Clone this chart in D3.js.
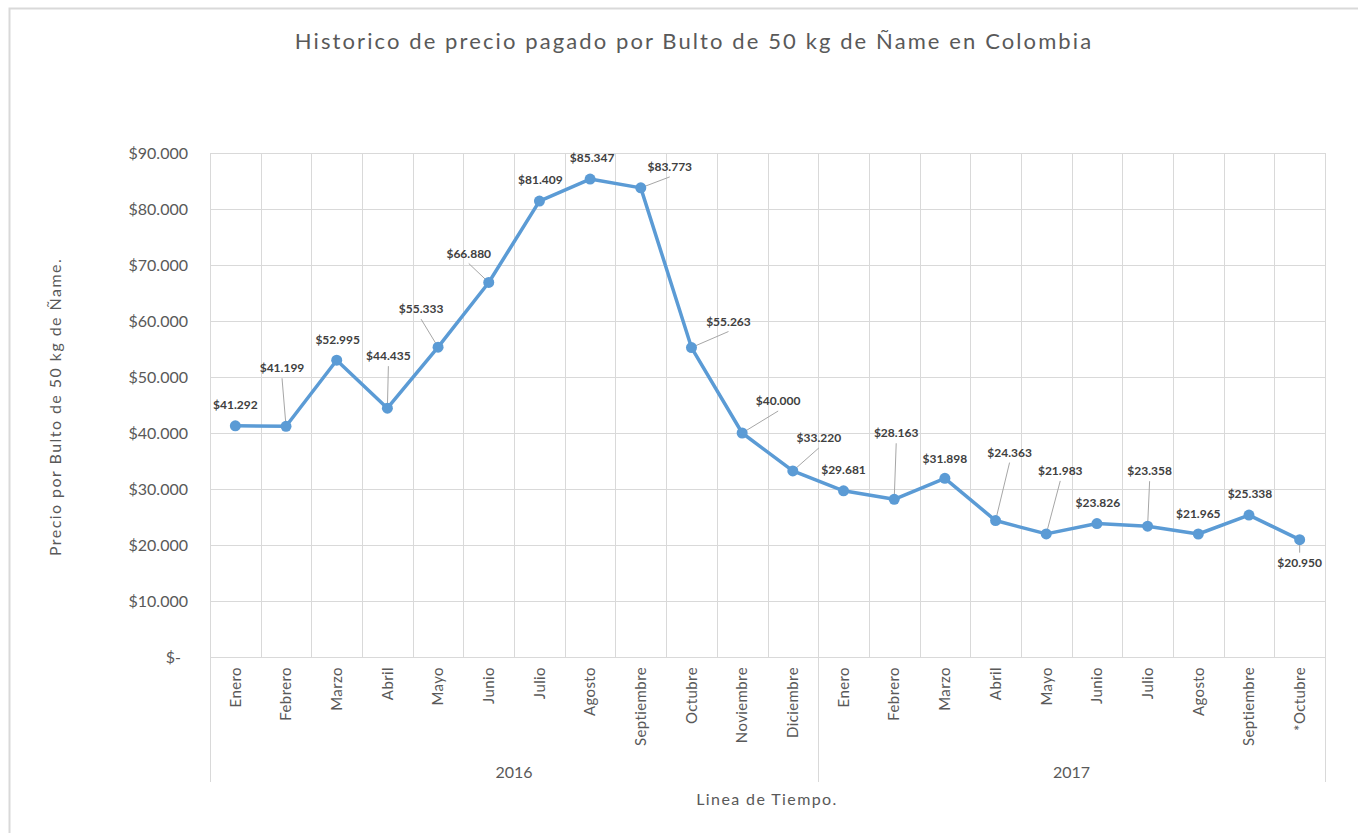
<!DOCTYPE html>
<html>
<head>
<meta charset="utf-8">
<script src="https://cdn.jsdelivr.net/npm/d3@7"></script>
<style>
  html, body { margin: 0; padding: 0; background: #fff; }
  svg { display: block; font-family: Lato, "Open Sans", sans-serif; }
</style>
</head>
<body>
<svg id="chart" width="1358" height="833"></svg>
<script>
// ---- data ----
const months = ["Enero","Febrero","Marzo","Abril","Mayo","Junio","Julio","Agosto","Septiembre","Octubre","Noviembre","Diciembre",
                "Enero","Febrero","Marzo","Abril","Mayo","Junio","Julio","Agosto","Septiembre","*Octubre"];
const years = ["2016","2017"];
const yearOfMonth = [0,0,0,0,0,0,0,0,0,0,0,0,1,1,1,1,1,1,1,1,1,1];
const prices = [41292,41199,52995,44435,55333,66880,81409,85347,83773,55263,40000,33220,
                29681,28163,31898,24363,21983,23826,23358,21965,25338,20950];
const yTicks = [0,10000,20000,30000,40000,50000,60000,70000,80000,90000];

// label placement (layout only): offset of label centre from point, and whether a leader line is drawn
const labelDx = [0,-4,1,1,-17,-20,1,2,29,37,36,26,0,2,0,14,14,1,2,0,1,0];
const labelDy = [-21,-58,-20,-52,-38,-29,-21,-21,-21,-26,-32,-33,-21,-66,-20,-68,-63,-21,-55,-20,-21,23];
const leader  = [0,1,0,1,1,1,0,0,1,1,1,1,0,1,0,1,1,0,1,0,0,1];

// ---- layout ----
const svg = d3.select("#chart");
const L = 210, R = 1325, T = 153, B = 657, axisBottom = 782;
const idx = d3.range(prices.length);

const x = d3.scaleBand().domain(idx).range([L, R]).paddingInner(0).paddingOuter(0);
const y = d3.scaleLinear().domain([0, 90000]).range([B, T]);

const loc = d3.formatLocale({decimal: ",", thousands: ".", grouping: [3], currency: ["$", ""]});
const fmt = loc.format("$,.0f");

const gridColor = "#d9d9d9", textColor = "#595959";

// frame
svg.append("rect").attr("x", 9.5).attr("y", 8.5).attr("width", 1400).attr("height", 900)
  .attr("fill", "none").attr("stroke", gridColor).attr("stroke-width", 2);

// title
svg.append("text").attr("x", 694).attr("y", 49).attr("text-anchor", "middle")
  .attr("font-size", 22).attr("letter-spacing", 2.1).attr("fill", textColor)
  .text("Historico de precio pagado por Bulto de 50 kg de Ñame en Colombia");

// horizontal gridlines
svg.append("g").selectAll("line").data(yTicks).join("line")
  .attr("x1", L).attr("x2", R)
  .attr("y1", d => Math.round(y(d)) + 0.5).attr("y2", d => Math.round(y(d)) + 0.5)
  .attr("stroke", gridColor).attr("stroke-width", 1);

// vertical gridlines at category boundaries
const bounds = d3.range(prices.length + 1).map(i => L + i * x.bandwidth());
svg.append("g").selectAll("line").data(bounds).join("line")
  .attr("x1", d => Math.round(d) + 0.5).attr("x2", d => Math.round(d) + 0.5)
  .attr("y1", T).attr("y2", B)
  .attr("stroke", gridColor).attr("stroke-width", 1);

// group separators below axis
const yearBounds = [0, yearOfMonth.indexOf(1), prices.length].map(i => L + i * x.bandwidth());
svg.append("g").selectAll("line").data(yearBounds).join("line")
  .attr("x1", d => Math.round(d) + 0.5).attr("x2", d => Math.round(d) + 0.5)
  .attr("y1", B).attr("y2", axisBottom)
  .attr("stroke", gridColor).attr("stroke-width", 1);

// y axis
const yAxis = d3.axisLeft(y).tickValues(yTicks).tickSize(0).tickPadding(0)
  .tickFormat(d => d === 0 ? "$-" : fmt(d));
const gy = svg.append("g").attr("transform", `translate(${188},0)`).call(yAxis);
gy.select(".domain").remove();
gy.selectAll("text").attr("font-size", 16).attr("fill", textColor)
  .attr("font-family", "Lato, sans-serif")
  .attr("dx", d => d === 0 ? -7 : 0);

// x axis (month labels)
const xAxis = d3.axisBottom(x).tickSize(0).tickFormat(i => months[i]);
const gx = svg.append("g").attr("transform", `translate(0,${B})`).call(xAxis);
gx.select(".domain").remove();
gx.selectAll("text")
  .attr("font-size", 15).attr("letter-spacing", 0.4).attr("fill", textColor).attr("font-family", "Lato, sans-serif")
  .attr("text-anchor", "end")
  .attr("transform", "rotate(-90)")
  .attr("x", -10).attr("y", 0).attr("dy", "0.35em");

// year labels
svg.append("g").selectAll("text").data(years).join("text")
  .attr("x", (d, i) => (yearBounds[i] + yearBounds[i + 1]) / 2)
  .attr("y", 778).attr("text-anchor", "middle")
  .attr("font-size", 16).attr("fill", textColor).text(d => d);

// axis titles
svg.append("text").attr("x", 767).attr("y", 805).attr("text-anchor", "middle")
  .attr("font-size", 16).attr("letter-spacing", 1.4).attr("fill", textColor).text("Linea de Tiempo.");
svg.append("text").attr("transform", "translate(61,407) rotate(-90)").attr("text-anchor", "middle")
  .attr("font-size", 16).attr("letter-spacing", 1.45).attr("fill", textColor).text("Precio por Bulto de 50 kg de Ñame.");

// leader lines
const cx = i => x(i) + x.bandwidth() / 2;
svg.append("g").selectAll("line").data(idx.filter(i => leader[i])).join("line")
  .attr("x1", i => cx(i)).attr("y1", i => y(prices[i]))
  .attr("x2", i => cx(i) + labelDx[i])
  .attr("y2", i => y(prices[i]) + labelDy[i] + (labelDy[i] < 0 ? 10 : -10))
  .attr("stroke", "#a6a6a6").attr("stroke-width", 1);

// line
svg.append("path").datum(idx)
  .attr("d", d3.line().x(i => cx(i)).y(i => y(prices[i])))
  .attr("fill", "none").attr("stroke", "#5b9bd5").attr("stroke-width", 3.5)
  .attr("stroke-linejoin", "round");

// markers
svg.append("g").selectAll("circle").data(idx).join("circle")
  .attr("cx", i => cx(i)).attr("cy", i => y(prices[i])).attr("r", 5.5)
  .attr("fill", "#5b9bd5");

// data labels
svg.append("g").selectAll("text").data(idx).join("text")
  .attr("x", i => cx(i) + labelDx[i])
  .attr("y", i => y(prices[i]) + labelDy[i])
  .attr("dy", "0.35em").attr("text-anchor", "middle")
  .attr("font-size", 12).attr("font-weight", "bold").attr("fill", "#404040")
  .text(i => fmt(prices[i]));
</script>
</body>
</html>
